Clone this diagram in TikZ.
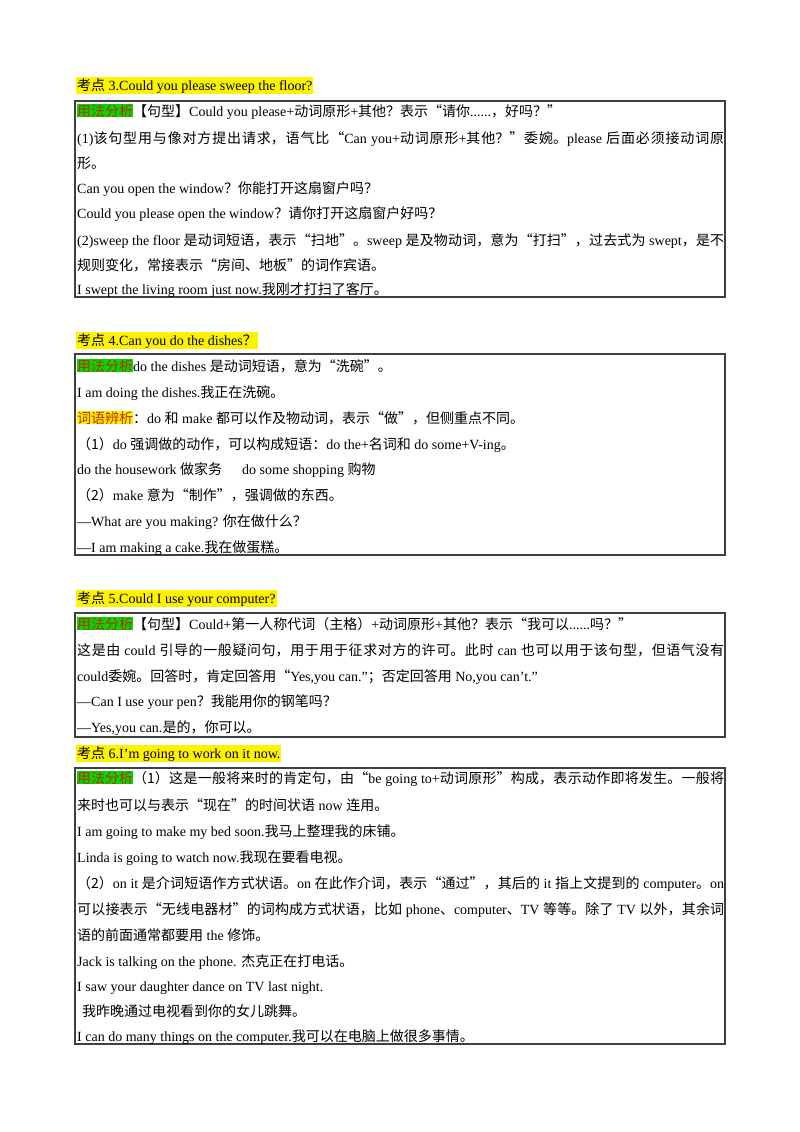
\documentclass[tikz,border=0pt]{standalone}
\usepackage{fontspec}
\setmainfont{Liberation Serif}
\newfontfamily\cjkf{Noto Sans CJK SC}
\newcommand{\zh}[1]{{\cjkf #1}}
\XeTeXlinebreaklocale "zh"
\XeTeXlinebreakskip=0pt plus 2pt
\newcommand{\J}[1]{{\parfillskip=0pt\relax #1\par}}
\definecolor{lab}{RGB}{200,40,0}
\newcommand{\hlg}[1]{{\setlength\fboxsep{0pt}\colorbox{green!85!black}{\textcolor{lab}{\zh{#1}}}}}
\newcommand{\hly}[1]{{\setlength\fboxsep{0pt}\colorbox{yellow}{\textcolor{lab}{\zh{#1}}}}}
\begin{document}
\begin{tikzpicture}[x=1pt,y=-1pt,
  every node/.style={font=\fontsize{14}{16}\selectfont, inner sep=0pt},
  ln/.style={anchor=base west},
  full/.style={anchor=base west, text width=647pt, align=justify},
  head/.style={anchor=base west, fill=yellow, inner sep=1pt},
  box/.style={draw=black!75, line width=1.1pt}]
\useasboundingbox (0,0) rectangle (800,1132);
% headings
\node[head] (h3) at (76,90) {\zh{考点} 3.Could you please sweep the floor?};
\node[head] (h4) at (76,345) {\zh{考点} 4.Can you do the dishes\zh{？}};
\node[head] (h5) at (76,603) {\zh{考点} 5.Could I use your computer?};
\node[head] (h6) at (76,758) {\zh{考点} 6.I’m going to work on it now.};
% boxes
\draw[box] (75,101) rectangle (725,297);
\draw[box] (75,354) rectangle (725,555);
\draw[box] (75,613) rectangle (725,737);
\draw[box] (75,768) rectangle (725,1044);
% box 1
\node[ln] (a1) at (77,116) {\hlg{用法分析}\zh{【句型】}Could you please+\zh{动词原形}+\zh{其他？表示“请你}......\zh{，好吗？”}};
\node[full] (a2) at (77,143) {\J{(1)\zh{该句型用与像对方提出请求，语气比“}Can you+\zh{动词原形}+\zh{其他？”委婉。}please \zh{后面必须接动词原}}};
\node[ln] (a3) at (77,168) {\zh{形。}};
\node[ln] (a4) at (77,193) {Can you open the window\zh{？你能打开这扇窗户吗？}};
\node[ln] (a5) at (77,218) {Could you please open the window\zh{？请你打开这扇窗户好吗？}};
\node[full] (a6) at (77,245) {\J{(2)sweep the floor \zh{是动词短语，表示“扫地”。}sweep \zh{是及物动词，意为“打扫”，过去式为} swept\zh{，是不}}};
\node[ln] (a7) at (77,270) {\zh{规则变化，常接表示“房间、地板”的词作宾语。}};
\node[ln] (a8) at (77,294) {I swept the living room just now.\zh{我刚才打扫了客厅。}};
% box 2
\node[ln] (b1) at (77,371) {\hlg{用法分析}do the dishes \zh{是动词短语，意为“洗碗”。}};
\node[ln] (b2) at (77,397) {I am doing the dishes.\zh{我正在洗碗。}};
\node[ln] (b3) at (77,423) {\hly{词语辨析}\zh{：}do \zh{和} make \zh{都可以作及物动词，表示“做”，但侧重点不同。}};
\node[ln] (b4) at (77,449) {\zh{（1）}do \zh{强调做的动作，可以构成短语：}do the+\zh{名词和} do some+V-ing\zh{。}};
\node[ln] (b5) at (77,474) {do the housework \zh{做家务}\hspace{20pt}do some shopping \zh{购物}};
\node[ln] (b6) at (77,500) {\zh{（2）}make \zh{意为“制作”，强调做的东西。}};
\node[ln] (b7) at (77,526) {—What are you making? \zh{你在做什么？}};
\node[ln] (b8) at (77,552) {—I am making a cake.\zh{我在做蛋糕。}};
% box 3
\node[ln] (c1) at (77,629) {\hlg{用法分析}\zh{【句型】}Could+\zh{第一人称代词（主格）}+\zh{动词原形}+\zh{其他？表示“我可以}......\zh{吗？”}};
\node[full] (c2) at (77,655) {\J{\zh{这是由} could \zh{引导的一般疑问句，用于用于征求对方的许可。此时} can \zh{也可以用于该句型，但语气没有}}};
\node[ln] (c3) at (77,681) {could\zh{委婉。回答时，肯定回答用“}Yes,you can.”\zh{；否定回答用} No,you can’t.”};
\node[ln] (c4) at (77,706) {—Can I use your pen\zh{？我能用你的钢笔吗？}};
\node[ln] (c5) at (77,732) {—Yes,you can.\zh{是的，你可以。}};
% box 4
\node[full] (d1) at (77,783) {\J{\hlg{用法分析}\zh{（1）这是一般将来时的肯定句，由“}be going to+\zh{动词原形”构成，表示动作即将发生。一般将}}};
\node[ln] (d2) at (77,810) {\zh{来时也可以与表示“现在”的时间状语} now \zh{连用。}};
\node[ln] (d3) at (77,836) {I am going to make my bed soon.\zh{我马上整理我的床铺。}};
\node[ln] (d4) at (77,862) {Linda is going to watch now.\zh{我现在要看电视。}};
\node[full] (d5) at (77,888) {\J{\zh{（2）}on it \zh{是介词短语作方式状语。}on \zh{在此作介词，表示“通过”，其后的} it \zh{指上文提到的} computer\zh{。}on}};
\node[full] (d6) at (77,914) {\J{\zh{可以接表示“无线电器材”的词构成方式状语，比如} phone\zh{、}computer\zh{、}TV \zh{等等。除了} TV \zh{以外，其余词}}};
\node[ln] (d7) at (77,940) {\zh{语的前面通常都要用} the \zh{修饰。}};
\node[ln] (d8) at (77,966) {Jack is talking on the phone. \zh{杰克正在打电话。}};
\node[ln] (d9) at (77,991) {I saw your daughter dance on TV last night.};
\node[ln] (d10) at (77,1016) {\hspace{5pt}\zh{我昨晚通过电视看到你的女儿跳舞。}};
\node[ln] (d11) at (77,1041) {I can do many things on the computer.\zh{我可以在电脑上做很多事情。}};
\end{tikzpicture}
\end{document}
